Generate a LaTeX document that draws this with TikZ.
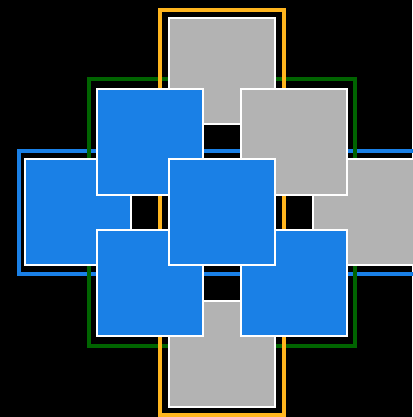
\documentclass[tikz,border=0pt]{standalone}
\definecolor{sqblue}{RGB}{26,128,230}
\definecolor{sqgrey}{RGB}{179,179,179}
\definecolor{frorange}{RGB}{255,181,30}
\definecolor{frgreen}{RGB}{0,100,0}
\definecolor{frblue}{RGB}{26,128,230}
\begin{document}
\begin{tikzpicture}[x=1pt,y=-1pt,
  frame/.style={line width=4pt},
  bluesq/.style={fill=sqblue,draw=white,line width=2pt},
  greysq/.style={fill=sqgrey,draw=white,line width=2pt}]
\fill[black] (0,0) rectangle (412,417);
\useasboundingbox (0,0) rectangle (412,417);
\def\cx{222}\def\cy{212.3}\def\dx{72}\def\dy{70.6}\def\hs{53}
% frames
\draw[frame,frblue] (19,151) rectangle (425,274);
\draw[frame,frgreen] (89,79) rectangle (355,346);
\draw[frame,frorange] (160,10) rectangle (284,414.5);
% squares
\newcommand{\sq}[3]{\draw[#1] ({\cx+(#2)*\dx-\hs},{\cy+(#3)*\dy-\hs}) rectangle ({\cx+(#2)*\dx+\hs},{\cy+(#3)*\dy+\hs});}
\sq{greysq}{0}{-2}
\sq{greysq}{0}{2}
\sq{bluesq}{-2}{0}
\sq{greysq}{2}{0}
\sq{bluesq}{-1}{-1}
\sq{greysq}{1}{-1}
\sq{bluesq}{-1}{1}
\sq{bluesq}{1}{1}
\sq{bluesq}{0}{0}
\end{tikzpicture}
\end{document}
